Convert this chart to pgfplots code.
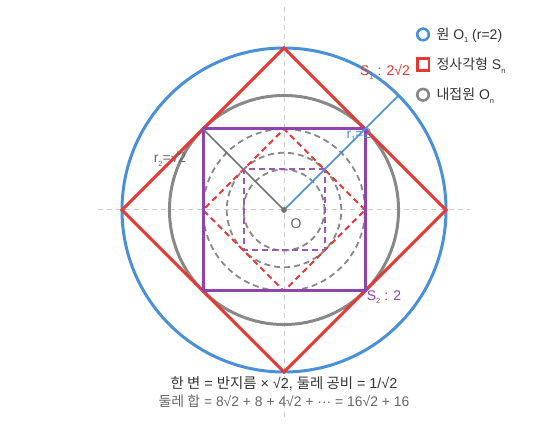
\documentclass[border=0pt]{standalone}
\usepackage{pgfplots}
\pgfplotsset{compat=1.18}
\usepackage{fontspec}
\setmainfont{Liberation Sans}
\newfontfamily\kr{Noto Sans CJK KR}
\definecolor{cblue}{HTML}{4A90D9}
\definecolor{cred}{HTML}{E53935}
\definecolor{cgray}{HTML}{888888}
\definecolor{cpurple}{HTML}{8E44AD}
\definecolor{cpurple2}{HTML}{9B59B6}
\definecolor{caxis}{HTML}{CCCCCC}
\definecolor{ctext}{HTML}{333333}
\definecolor{ctext2}{HTML}{666666}
\newcommand{\sub}[1]{\raisebox{-0.45ex}{\fontsize{7.5}{7.5}\selectfont #1}}
\begin{document}
\begin{tikzpicture}
\begin{axis}[
  scale only axis, width=547pt, height=429pt,
  xmin=-3.5062, xmax=3.2469, ymin=-2.7037, ymax=2.5926,
  hide axis, clip=false,
  legend cell align=left,
  legend style={at={(axis description cs:0.760,0.940)}, anchor=north west,
    draw=none, fill=none, font=\fontsize{14}{16}\selectfont, text=ctext,
    row sep=13pt, inner sep=0pt},
]
\path (axis cs:-3.5062,-2.7037) rectangle (axis cs:3.2469,2.5926);
% axes lines
\addplot[caxis, line width=1pt, dash pattern=on 5pt off 4pt, forget plot] coordinates {(-2.3,0) (2.3,0)};
\addplot[caxis, line width=1pt, dash pattern=on 5pt off 4pt, forget plot] coordinates {(0,-2.55) (0,2.5)};
% dashed inner shapes
\draw[cgray, line width=1.8pt, dash pattern=on 6pt off 4pt] (axis cs:0,0) circle[radius=1];
\draw[cgray, line width=1.8pt, dash pattern=on 6pt off 4pt] (axis cs:0,0) circle[radius=0.70711];
\draw[cgray, line width=1.8pt, dash pattern=on 6pt off 4pt] (axis cs:0,0) circle[radius=0.5];
\addplot[cred, line width=1.8pt, dash pattern=on 6pt off 4pt, forget plot] coordinates {(1,0) (0,1) (-1,0) (0,-1) (1,0)};
\addplot[cpurple2, line width=2pt, dash pattern=on 6pt off 4pt, forget plot] coordinates {(0.5,0.5) (-0.5,0.5) (-0.5,-0.5) (0.5,-0.5) (0.5,0.5)};
% main shapes
\draw[cblue, line width=3pt] (axis cs:0,0) circle[radius=2];
\draw[cgray, line width=3pt] (axis cs:0,0) circle[radius=1.41421];
\addplot[cred, line width=3pt, line join=miter, forget plot] coordinates {(2,0) (0,2) (-2,0) (0,-2) (2,0) (0,2)};
\addplot[cpurple, line width=3pt, line join=miter, forget plot] coordinates {(1,1) (-1,1) (-1,-1) (1,-1) (1,1) (-1,1)};
% radii
\addplot[cblue, line width=1.6pt, forget plot] coordinates {(0,0) (1.41421,1.41421)};
\addplot[cgray!85!black, line width=1.6pt, forget plot] coordinates {(0,0) (-1,1)};
\addplot[only marks, mark=*, mark size=2.6pt, color=cgray!85!black, forget plot] coordinates {(0,0)};
% labels
\node[text=cred, font=\fontsize{14}{16}\selectfont] at (axis cs:1.247,1.704) {S\sub{1} : 2√2};
\node[text=cblue, font=\fontsize{14}{16}\selectfont] at (axis cs:0.926,0.926) {r\sub{1}=2};
\node[text=ctext2, font=\fontsize{14}{16}\selectfont] at (axis cs:-1.407,0.63) {r\sub{2}=√2};
\node[text=cpurple, font=\fontsize{14}{16}\selectfont] at (axis cs:1.235,-1.074) {S\sub{2} : 2};
\node[text=ctext2, font=\fontsize{14}{16}\selectfont] at (axis cs:0.148,-0.173) {O};
\node[text=ctext, font=\fontsize{14.4}{16}\selectfont] at (axis cs:0,-2.136) {{\kr 한 변} = {\kr 반지름} × √2, {\kr 둘레 공비} = 1/√2};
\node[text=ctext2, font=\fontsize{13.9}{16}\selectfont] at (axis cs:0,-2.358) {{\kr 둘레 합} = 8√2 + 8 + 4√2 + ··· = 16√2 + 16};
% legend
\addlegendimage{legend image code/.code={\draw[cblue, line width=2.6pt] (5.5pt,0) circle[radius=5.8pt]; \path[draw=none] (0,0) -- (17pt,0);}}
\addlegendentry{{\kr 원} O\sub{1} (r=2)}
\addlegendimage{legend image code/.code={\draw[cred, line width=2.6pt] (-0.3pt,-5.8pt) rectangle (11.3pt,5.8pt); \path[draw=none] (0,0) -- (17pt,0);}}
\addlegendentry{{\kr 정사각형} S\sub{n}}
\addlegendimage{legend image code/.code={\draw[cgray, line width=2.6pt] (5.5pt,0) circle[radius=5.8pt]; \path[draw=none] (0,0) -- (17pt,0);}}
\addlegendentry{{\kr 내접원} O\sub{n}}
\end{axis}
\end{tikzpicture}
\end{document}
